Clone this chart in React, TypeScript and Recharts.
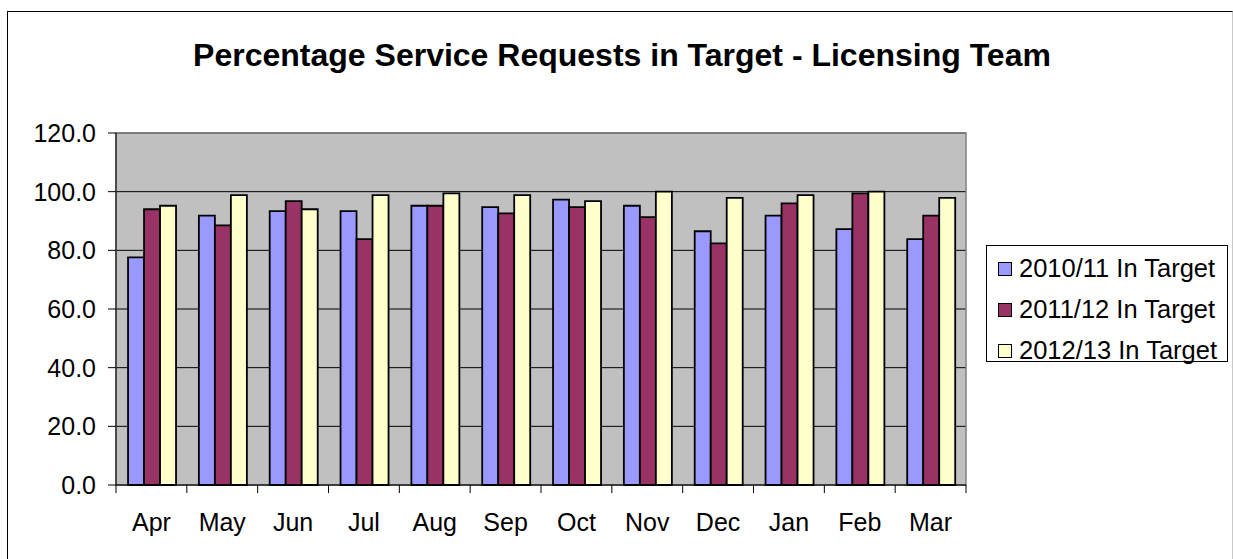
import React from 'react';
import {
  BarChart,
  Bar,
  XAxis,
  YAxis,
  CartesianGrid,
  Legend,
  ReferenceArea
} from 'recharts';

const months = ['Apr', 'May', 'Jun', 'Jul', 'Aug', 'Sep', 'Oct', 'Nov', 'Dec', 'Jan', 'Feb', 'Mar'];
const inTarget1011 = [77.6, 91.8, 93.4, 93.4, 95.2, 94.7, 97.3, 95.2, 86.5, 91.8, 87.2, 83.8];
const inTarget1112 = [94.0, 88.5, 96.8, 83.8, 95.2, 92.6, 94.7, 91.3, 82.4, 96.0, 99.4, 91.8];
const inTarget1213 = [95.2, 98.8, 94.0, 98.8, 99.4, 98.8, 96.8, 100.0, 97.9, 98.8, 100.0, 97.9];
const yTicks = [0, 20, 40, 60, 80, 100, 120];

const seriesNames = ['2010/11 In Target', '2011/12 In Target', '2012/13 In Target'];
const seriesColors = ['#9999FF', '#993366', '#FFFFCC'];

const data = months.map((m, i) => ({
  month: m,
  s1: inTarget1011[i],
  s2: inTarget1112[i],
  s3: inTarget1213[i]
}));

const FONT = '"Liberation Sans", Arial, sans-serif';
const WIDTH = 1233;
const HEIGHT = 559;
const PLOT_LEFT = 116;
const PLOT_RIGHT = 966;
const BAND = (PLOT_RIGHT - PLOT_LEFT) / months.length;
const LABEL_GAP = 28;

// Excel style: tick marks sit between categories, not under them
const MonthTick = (props: any) => {
  const { x, y, payload, index } = props;
  const axisY = y - LABEL_GAP;
  return (
    <g>
      <line x1={x - BAND / 2} x2={x - BAND / 2} y1={axisY} y2={axisY + 8} stroke="#000" />
      {index === months.length - 1 && (
        <line x1={x + BAND / 2} x2={x + BAND / 2} y1={axisY} y2={axisY + 8} stroke="#000" />
      )}
      <text x={x} y={y} dy="0.71em" textAnchor="middle" fontSize={25} fontFamily={FONT} fill="#000">
        {payload.value}
      </text>
    </g>
  );
};

const LegendBox = (props: any) => {
  const { payload } = props;
  return (
    <div
      style={{
        border: '1px solid #000',
        background: '#fff',
        width: 242,
        height: 117,
        boxSizing: 'border-box',
        paddingTop: 2,
        paddingLeft: 11,
        fontFamily: FONT,
        fontSize: 25.5,
        textAlign: 'left',
        whiteSpace: 'nowrap'
      }}
    >
      {(payload || []).map((entry: any) => (
        <div key={entry.value} style={{ display: 'flex', alignItems: 'center', height: 41 }}>
          <span
            style={{
              display: 'inline-block',
              width: 12,
              height: 12,
              background: entry.color,
              border: '1px solid #000',
              marginRight: 7
            }}
          />
          <span style={{ color: '#000' }}>{entry.value}</span>
        </div>
      ))}
    </div>
  );
};

export default function App() {
  return (
    <div style={{ position: 'absolute', left: 0, top: 0, width: WIDTH, height: HEIGHT, background: '#fff', overflow: 'hidden' }}>
      <div
        style={{
          position: 'absolute',
          left: 7,
          top: 11,
          width: 1224,
          height: 560,
          borderTop: '1.5px solid #000',
          borderLeft: '1.5px solid #000',
          borderRight: '1.5px solid #c8c8c8'
        }}
      />
      <div
        style={{
          position: 'absolute',
          left: 0,
          top: 35,
          width: 1244,
          textAlign: 'center',
          fontFamily: FONT,
          fontWeight: 'bold',
          fontSize: 32,
          lineHeight: '40px',
          color: '#000'
        }}
      >
        Percentage Service Requests in Target - Licensing Team
      </div>
      <div style={{ position: 'absolute', left: 0, top: 0 }}>
        <BarChart
          width={WIDTH}
          height={HEIGHT}
          data={data}
          margin={{ top: 133, right: WIDTH - PLOT_RIGHT, bottom: 44, left: 0 }}
          barCategoryGap="17%"
          barGap={0}
        >
          <CartesianGrid
            vertical={false}
            stroke="#000"
            strokeWidth={1}
            fill="#C0C0C0"
            fillOpacity={1}
          />
          <ReferenceArea y1={0} y2={120} fill="none" stroke="#808080" strokeWidth={1.5} />
          <XAxis
            dataKey="month"
            tickLine={false}
            tickSize={0}
            tickMargin={LABEL_GAP}
            interval={0}
            height={30}
            axisLine={{ stroke: '#000' }}
            tick={<MonthTick />}
          />
          <YAxis
            width={PLOT_LEFT}
            domain={[0, 120]}
            ticks={yTicks}
            tickSize={8}
            tickMargin={12}
            axisLine={{ stroke: '#000' }}
            tickLine={{ stroke: '#000' }}
            tick={{ fill: '#000', fontSize: 25, fontFamily: FONT }}
            tickFormatter={(v: number) => v.toFixed(1)}
          />
          <Legend
            layout="horizontal"
            verticalAlign="middle"
            align="center"
            content={<LegendBox />}
            wrapperStyle={{ position: 'absolute', left: 986, top: 245, width: 242, height: 117 }}
          />
          <Bar dataKey="s1" name={seriesNames[0]} fill={seriesColors[0]} stroke="#000" strokeWidth={1.8} isAnimationActive={false} />
          <Bar dataKey="s2" name={seriesNames[1]} fill={seriesColors[1]} stroke="#000" strokeWidth={1.8} isAnimationActive={false} />
          <Bar dataKey="s3" name={seriesNames[2]} fill={seriesColors[2]} stroke="#000" strokeWidth={1.8} isAnimationActive={false} />
        </BarChart>
      </div>
    </div>
  );
}
